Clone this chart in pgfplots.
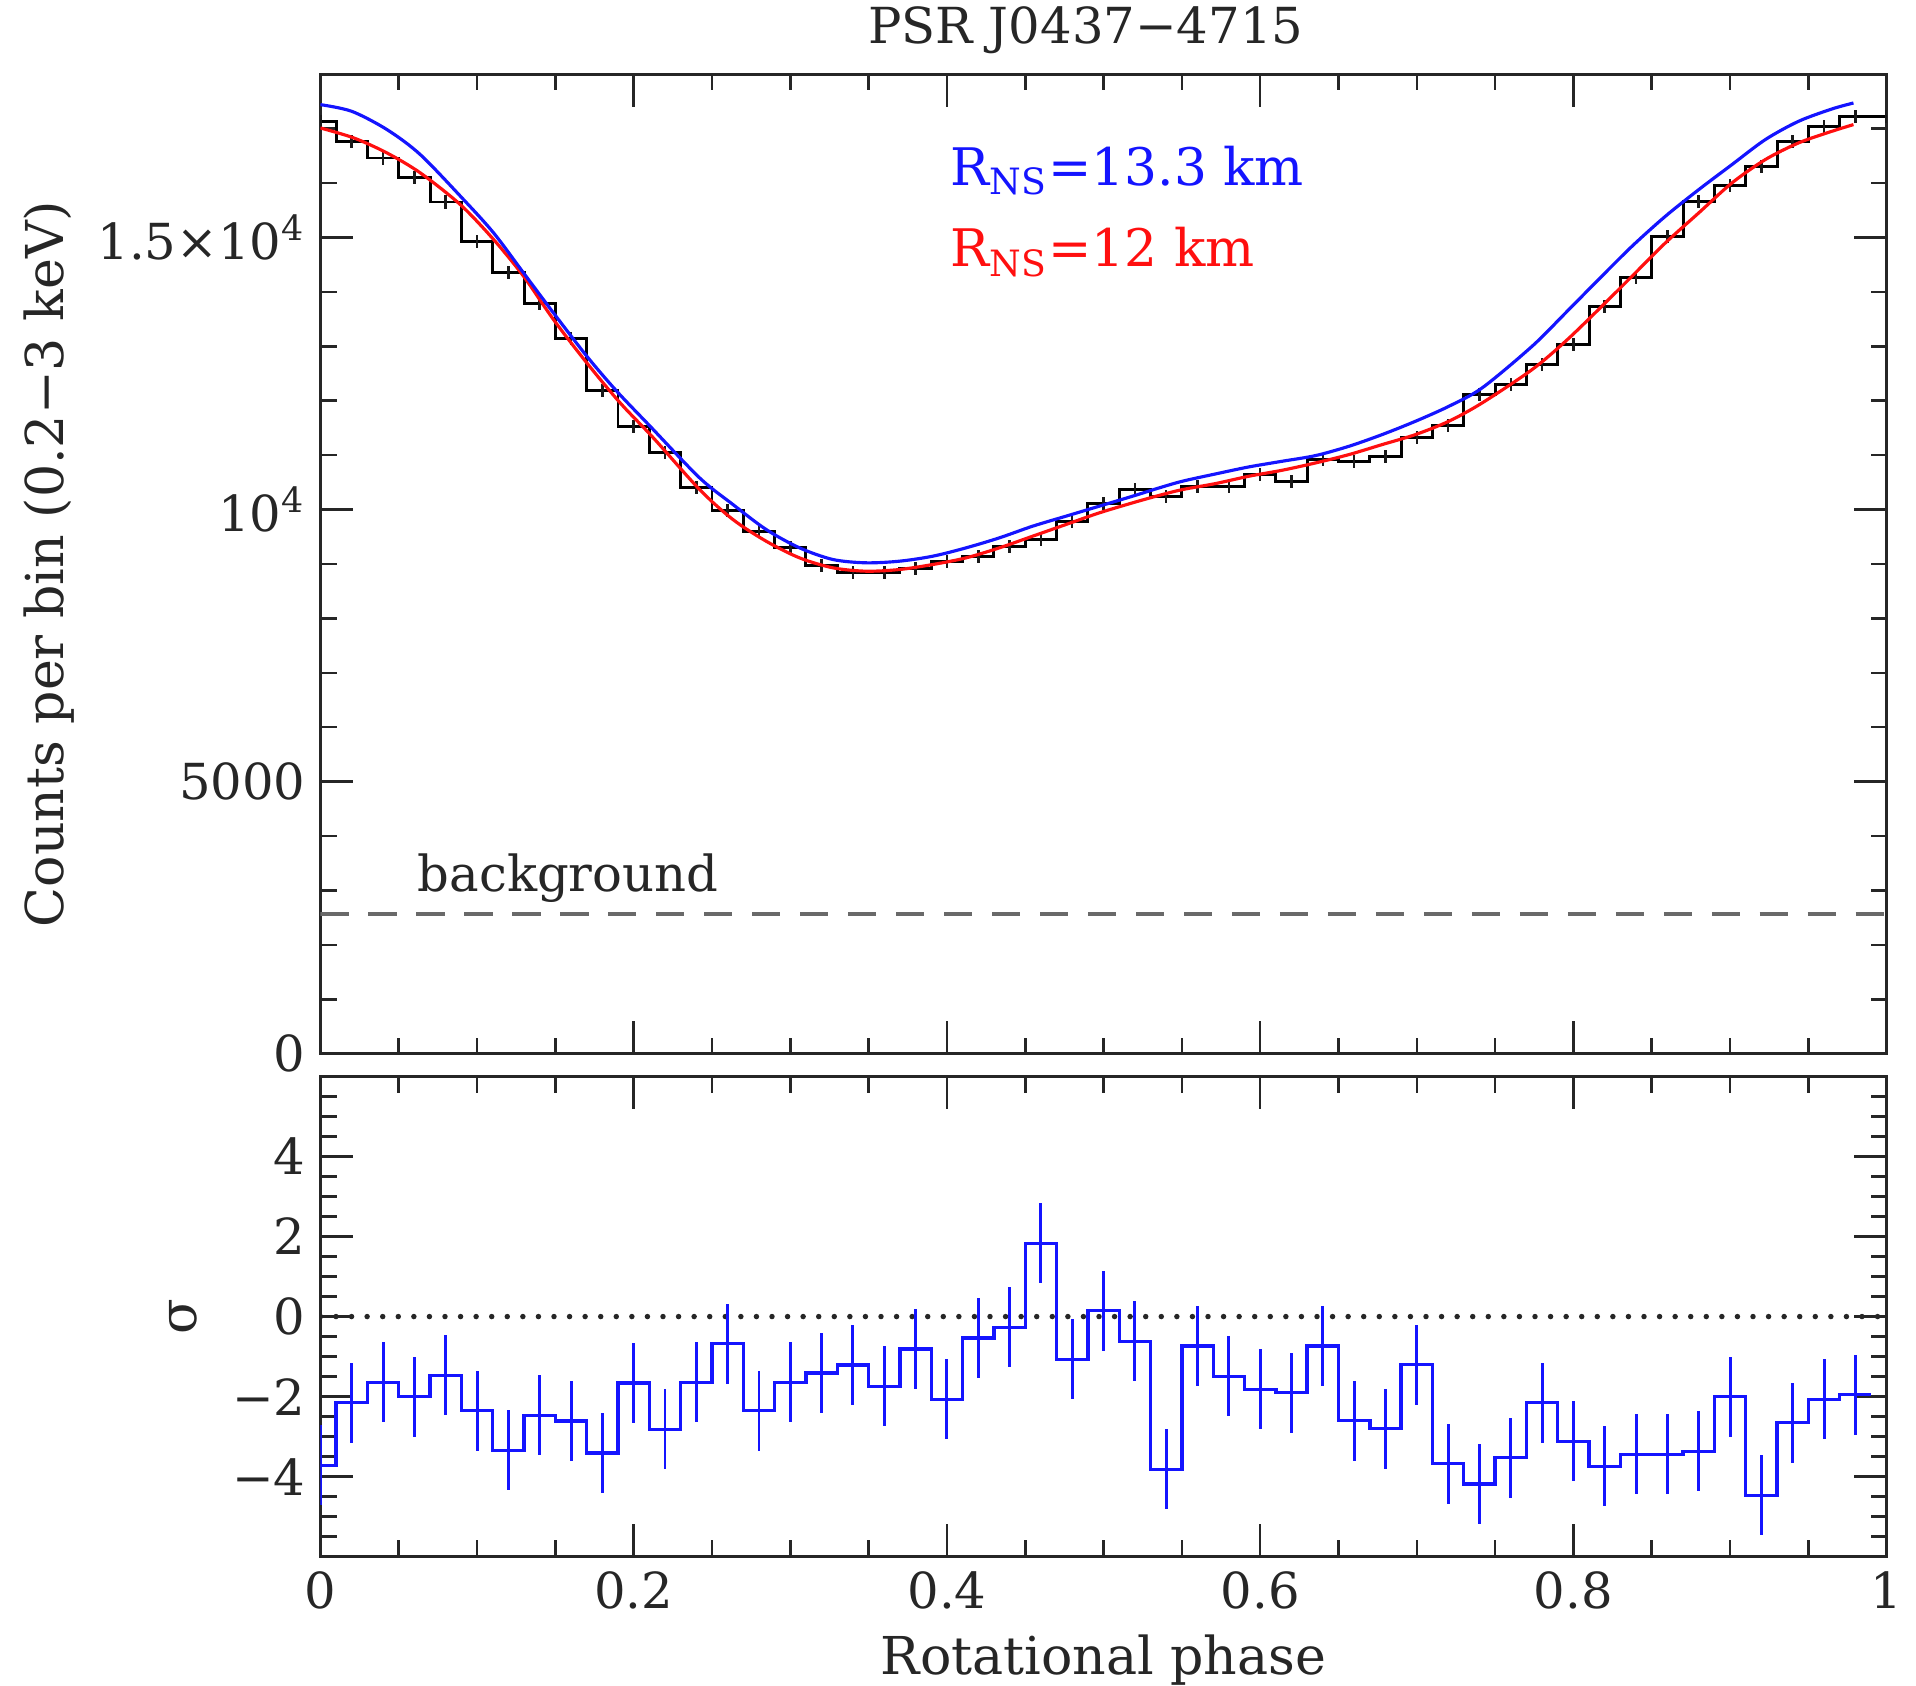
\documentclass[border=0pt]{standalone}
\usepackage{fontspec}
\setmainfont{DejaVu Serif}
\usepackage{pgfplots}
\usepackage{pgfplotstable}
\pgfplotsset{compat=1.18}
\definecolor{hist}{RGB}{25,25,25}
\definecolor{bkg}{RGB}{105,105,105}
\definecolor{pblue}{RGB}{20,20,255}
\definecolor{pred}{RGB}{255,15,15}

\pgfplotstableread{
p v
0.00 17134
0.02 16766
0.04 16460
0.06 16105
0.08 15652
0.10 14918
0.12 14348
0.14 13779
0.16 13136
0.18 12187
0.20 11531
0.22 11053
0.24 10398
0.26 9980
0.28 9602
0.30 9296
0.32 8971
0.34 8849
0.36 8849
0.38 8910
0.40 9051
0.42 9143
0.44 9327
0.46 9449
0.48 9786
0.50 10110
0.52 10368
0.54 10245
0.56 10416
0.58 10416
0.60 10643
0.62 10521
0.64 10919
0.66 10888
0.68 10968
0.70 11317
0.72 11549
0.74 12113
0.76 12297
0.78 12664
0.80 13032
0.82 13736
0.84 14257
0.86 15022
0.88 15665
0.90 15953
0.92 16296
0.94 16767
0.96 17031
0.98 17226
1.00 17226
}\histdata

\pgfplotstableread{
p v
0.0000 17441
0.0200 17318
0.0425 16982
0.0638 16522
0.0914 15696
0.1106 15083
0.1297 14348
0.1488 13613
0.1701 12817
0.1892 12174
0.2105 11531
0.2421 10582
0.2634 10092
0.2846 9633
0.3059 9296
0.3272 9082
0.3484 9021
0.3697 9051
0.3910 9143
0.4122 9296
0.4335 9480
0.4547 9694
0.4760 9878
0.4973 10062
0.5185 10245
0.5355 10398
0.5504 10521
0.5716 10655
0.5929 10784
0.6142 10888
0.6354 10992
0.6567 11163
0.6779 11378
0.6992 11623
0.7205 11898
0.7417 12235
0.7736 13000
0.7950 13614
0.8160 14226
0.8374 14838
0.8587 15389
0.8800 15879
0.9012 16339
0.9225 16798
0.9437 17134
0.9650 17361
0.9788 17471
}\bluedata

\pgfplotstableread{
p v
0.0000 17012
0.0213 16829
0.0425 16553
0.0638 16186
0.0893 15604
0.1106 14961
0.1297 14287
0.1488 13491
0.1701 12694
0.1914 11959
0.2126 11316
0.2421 10368
0.2634 9816
0.2846 9418
0.3059 9112
0.3272 8929
0.3484 8867
0.3697 8898
0.3910 8990
0.4122 9112
0.4335 9296
0.4547 9510
0.4760 9725
0.4973 9939
0.5185 10123
0.5355 10260
0.5504 10367
0.5716 10478
0.5929 10613
0.6142 10723
0.6354 10857
0.6567 11010
0.6779 11194
0.6992 11378
0.7205 11623
0.7417 11959
0.7736 12572
0.7950 13093
0.8160 13675
0.8374 14287
0.8587 14900
0.8800 15451
0.9012 16002
0.9225 16431
0.9437 16737
0.9650 16951
0.9788 17074
}\reddata

\pgfplotstableread{
p v
0.00 -3.72
0.02 -2.15
0.04 -1.64
0.06 -2.00
0.08 -1.47
0.10 -2.35
0.12 -3.34
0.14 -2.47
0.16 -2.61
0.18 -3.41
0.20 -1.66
0.22 -2.82
0.24 -1.64
0.26 -0.68
0.28 -2.35
0.30 -1.64
0.32 -1.41
0.34 -1.21
0.36 -1.74
0.38 -0.81
0.40 -2.07
0.42 -0.54
0.44 -0.27
0.46 1.83
0.48 -1.07
0.50 0.15
0.52 -0.62
0.54 -3.82
0.56 -0.74
0.58 -1.49
0.60 -1.82
0.62 -1.90
0.64 -0.74
0.66 -2.60
0.68 -2.80
0.70 -1.20
0.72 -3.68
0.74 -4.18
0.76 -3.53
0.78 -2.15
0.80 -3.12
0.82 -3.74
0.84 -3.44
0.86 -3.44
0.88 -3.37
0.90 -2.00
0.92 -4.47
0.94 -2.65
0.96 -2.07
0.98 -1.95
}\resdata

\pgfplotstableread{
p v
0.00 -3.72
0.02 -2.15
0.04 -1.64
0.06 -2.00
0.08 -1.47
0.10 -2.35
0.12 -3.34
0.14 -2.47
0.16 -2.61
0.18 -3.41
0.20 -1.66
0.22 -2.82
0.24 -1.64
0.26 -0.68
0.28 -2.35
0.30 -1.64
0.32 -1.41
0.34 -1.21
0.36 -1.74
0.38 -0.81
0.40 -2.07
0.42 -0.54
0.44 -0.27
0.46 1.83
0.48 -1.07
0.50 0.15
0.52 -0.62
0.54 -3.82
0.56 -0.74
0.58 -1.49
0.60 -1.82
0.62 -1.90
0.64 -0.74
0.66 -2.60
0.68 -2.80
0.70 -1.20
0.72 -3.68
0.74 -4.18
0.76 -3.53
0.78 -2.15
0.80 -3.12
0.82 -3.74
0.84 -3.44
0.86 -3.44
0.88 -3.37
0.90 -2.00
0.92 -4.47
0.94 -2.65
0.96 -2.07
0.98 -1.95
0.99 -1.95
}\resstep

\pgfplotsset{
  pgpframe/.style={
    scale only axis, width=13.08cm, xmin=0, xmax=1,
    axis line style={line width=0.75pt, black!85},
    every tick/.style={line width=0.6pt, black!85},
    major tick length=0.275cm, minor tick length=0.135cm,
    tick align=inside,
    scaled x ticks=false, scaled y ticks=false,
    xtick={0,0.2,0.4,0.6,0.8,1},
    minor xtick={0.05,0.1,0.15,0.25,0.3,0.35,0.45,0.5,0.55,0.65,0.7,0.75,0.85,0.9,0.95},
    font=\fontsize{11.8}{14}\selectfont,
    tick label style={font=\fontsize{11.8}{14}\selectfont, black!85},
    label style={font=\fontsize{12.4}{14}\selectfont, black!85},
    every axis title shift=0pt,
    clip=true,
  }
}

\begin{document}
\begin{tikzpicture}[font=\fontsize{11.8}{14}\selectfont]
% ---------- upper panel ----------
\begin{axis}[pgpframe,
  at={(0,4.20cm)}, anchor=south west, height=8.18cm,
  ymin=0, ymax=18000,
  ytick={0,5000,10000,15000},
  yticklabels={0,5000,10\textsuperscript{4},1.5×10\textsuperscript{4}},
  minor ytick={1000,2000,3000,4000,6000,7000,8000,9000,11000,12000,13000,14000,16000,17000},
  xticklabels={},
  title={PSR J0437−4715},
  title style={at={(axis description cs:0.4887,1.045)}, anchor=center, black!85, font=\fontsize{11.8}{14}\selectfont},
  ylabel={Counts per bin (0.2−3 keV)},
  ylabel style={at={(axis description cs:-0.1733,0.5)}, anchor=center},
]
\addplot[bkg, line width=1pt, dash pattern=on 6.7pt off 4.7pt] coordinates {(0,2563) (1,2563)};
\addplot[hist, line width=0.7pt, const plot mark mid] table[x=p, y=v] {\histdata};
\addplot[draw=none, mark=none,
  error bars/.cd, y dir=both, y fixed=120, error mark=none,
  error bar style={draw=hist, line width=0.6pt, solid}] table[x=p, y=v] {\histdata};
\addplot[pred, line width=0.75pt, smooth] table[x=p, y=v] {\reddata};
\addplot[pblue, line width=0.75pt, smooth] table[x=p, y=v] {\bluedata};
\node[anchor=base west, black!85, font=\fontsize{11.8}{14}\selectfont] at (axis cs:0.0527,2987) {background};
\node[anchor=base west, pblue, inner sep=0pt, font=\fontsize{12.3}{14}\selectfont] at (axis cs:0.402,15960) {R\textsubscript{NS}=13.3 km};
\node[anchor=base west, pred, inner sep=0pt, font=\fontsize{12.3}{14}\selectfont] at (axis cs:0.402,14460) {R\textsubscript{NS}=12 km};
\end{axis}
% ---------- lower panel ----------
\begin{axis}[pgpframe,
  at={(0,0)}, anchor=south west, height=4.01cm,
  ymin=-6, ymax=6,
  ytick={-4,-2,0,2,4},
  yticklabels={−4,−2,0,2,4},
  minor ytick={-5.5,-5,-4.5,-3.5,-3,-2.5,-1.5,-1,-0.5,0.5,1,1.5,2.5,3,3.5,4.5,5,5.5},
  xticklabels={0,0.2,0.4,0.6,0.8,1},
  xlabel={Rotational phase},
  xlabel style={at={(axis description cs:0.5,-0.2145)}, anchor=center},
  ylabel={σ},
  ylabel style={at={(axis description cs:-0.0877,0.5)}, anchor=center},
]
\addplot[black!85, line width=1.3pt, line cap=round, dash pattern=on 0pt off 3.7pt] coordinates {(0,0) (1,0)};
\addplot[pblue, line width=0.8pt, const plot mark mid] table[x=p, y=v] {\resstep};
\addplot[draw=none, mark=none,
  error bars/.cd, y dir=both, y fixed=1, error mark=none,
  error bar style={draw=pblue, line width=0.7pt, solid}] table[x=p, y=v] {\resdata};
\end{axis}
\pgfresetboundingbox
\path[use as bounding box] (-2.676,-1.077) rectangle (13.325,13.0);
\end{tikzpicture}
\end{document}
